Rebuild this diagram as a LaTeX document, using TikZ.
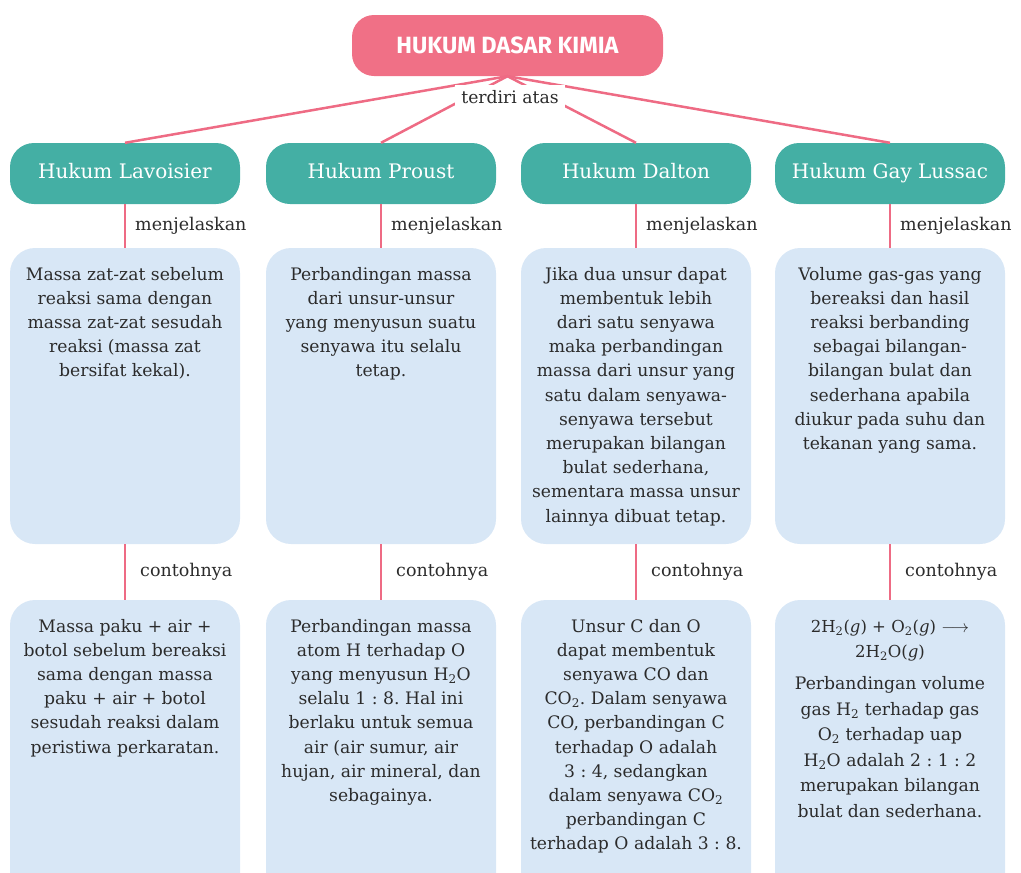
\documentclass[tikz,border=0pt]{standalone}
\usepackage{fontspec}
\usetikzlibrary{calc}
\setmainfont{DejaVu Serif}
\newfontfamily\firasans{Fira Sans}
\definecolor{titlepink}{HTML}{F07086}
\definecolor{linkpink}{HTML}{EE6B84}
\definecolor{lawteal}{HTML}{44AFA4}
\definecolor{boxblue}{HTML}{D8E7F6}
\definecolor{darktext}{HTML}{2B2B2B}
\newcommand\chsub[1]{\textsubscript{#1}}
\frenchspacing
\begin{document}
\begin{tikzpicture}[x=1pt,y=-1pt,
  titlebox/.style={rounded corners=22pt, fill=titlepink, minimum width=311pt, minimum height=61pt, inner sep=0pt, text=white, font=\firasans\bfseries\fontsize{23.5}{28}\selectfont},
  lawbox/.style={rounded corners=24pt, fill=lawteal, minimum width=230pt, minimum height=61pt, inner sep=0pt, text height=15pt, text depth=4.5pt, text=white, font=\fontsize{20}{24}\selectfont},
  descbox/.style={rounded corners=25pt, fill=boxblue, minimum width=230pt, minimum height=296pt, inner sep=0pt},
  exbox/.style={rounded corners=25pt, fill=boxblue, minimum width=230pt, minimum height=300pt, inner sep=0pt},
  bodytext/.style={align=center, text=darktext, font=\fontsize{17.2}{24.2}\selectfont, anchor=north, inner sep=0pt},
  link/.style={draw=linkpink, line width=2.5pt},
  lbl/.style={font=\fontsize{17.5}{21}\selectfont, text=darktext, anchor=west, inner sep=0pt},
  toplbl/.style={font=\fontsize{17.2}{21}\selectfont, text=darktext, fill=white, inner xsep=6pt, inner ysep=5pt}
]
\useasboundingbox (0,0) rectangle (1021,873);
\clip (0,0) rectangle (1021,873);

% title
\node[titlebox] (title) at (507.5,45.5) {HUKUM DASAR KIMIA};

% law boxes
\node[lawbox] (lav) at (125,173.5) {Hukum Lavoisier};
\node[lawbox] (pro) at (381,173.5) {Hukum Proust};
\node[lawbox] (dal) at (636,173.5) {Hukum Dalton};
\node[lawbox] (gay) at (890,173.5) {Hukum Gay Lussac};

% description boxes
\node[descbox] (lavd) at (125,396) {};
\node[descbox] (prod) at (381,396) {};
\node[descbox] (dald) at (636,396) {};
\node[descbox] (gayd) at (890,396) {};

% example boxes
\node[exbox] (lave) at (125,750) {};
\node[exbox] (proe) at (381,750) {};
\node[exbox] (dale) at (636,750) {};
\node[exbox] (gaye) at (890,750) {};

% connectors from title
\foreach \n in {lav,pro,dal,gay}{
  \draw[link] (title.south) -- (\n.north);
}
\node[toplbl] (terdiri) at (510,97) {terdiri atas};

% vertical connectors and labels
\foreach \n in {lav,pro,dal,gay}{
  \draw[link] (\n.south) -- (\n d.north);
  \draw[link] (\n d.south) -- (\n e.north);
  \node[lbl] (\n m) at ([xshift=10pt]$(\n.south)!0.5!(\n d.north)$) {menjelaskan};
  \node[lbl] (\n c) at ([xshift=15pt]$(\n d.south)!0.5!(\n e.north)$) {contohnya};
}

% description texts
\node[bodytext] (lavdt) at ([yshift=-19pt]lavd.north) {Massa zat-zat sebelum\\ reaksi sama dengan\\ massa zat-zat sesudah\\ reaksi (massa zat\\ bersifat kekal).};
\node[bodytext] (prodt) at ([yshift=-19pt]prod.north) {Perbandingan massa\\ dari unsur-unsur\\ yang menyusun suatu\\ senyawa itu selalu\\ tetap.};
\node[bodytext] (daldt) at ([yshift=-19pt]dald.north) {Jika dua unsur dapat\\ membentuk lebih\\ dari satu senyawa\\ maka perbandingan\\ massa dari unsur yang\\ satu dalam senyawa-\\ senyawa tersebut\\ merupakan bilangan\\ bulat sederhana,\\ sementara massa unsur\\ lainnya dibuat tetap.};
\node[bodytext] (gaydt) at ([yshift=-19pt]gayd.north) {Volume gas-gas yang\\ bereaksi dan hasil\\ reaksi berbanding\\ sebagai bilangan-\\ bilangan bulat dan\\ sederhana apabila\\ diukur pada suhu dan\\ tekanan yang sama.};

% example texts
\node[bodytext] (lavet) at ([yshift=-19pt]lave.north) {Massa paku + air +\\ botol sebelum bereaksi\\ sama dengan massa\\ paku + air + botol\\ sesudah reaksi dalam\\ peristiwa perkaratan.};
\node[bodytext] (proet) at ([yshift=-19pt]proe.north) {Perbandingan massa\\ atom H terhadap O\\ yang menyusun H\chsub{2}O\\ selalu 1 : 8. Hal ini\\ berlaku untuk semua\\ air (air sumur, air\\ hujan, air mineral, dan\\ sebagainya.};
\node[bodytext] (dalet) at ([yshift=-19pt]dale.north) {Unsur C dan O\\ dapat membentuk\\ senyawa CO dan\\ CO\chsub{2}. Dalam senyawa\\ CO, perbandingan C\\ terhadap O adalah\\ 3 : 4, sedangkan\\ dalam senyawa CO\chsub{2}\\ perbandingan C\\ terhadap O adalah 3 : 8.};
\node[bodytext, font=\fontsize{16.5}{25}\selectfont] (gayeq) at ([yshift=-20pt]gaye.north) {2H\chsub{2}(\textit{g}) + O\chsub{2}(\textit{g}) $\longrightarrow$\\ 2H\chsub{2}O(\textit{g})};
\node[bodytext, font=\fontsize{17.2}{25.5}\selectfont] (gayet) at ([yshift=-15pt]gayeq.south) {Perbandingan volume\\ gas H\chsub{2} terhadap gas\\ O\chsub{2} terhadap uap\\ H\chsub{2}O adalah 2 : 1 : 2\\ merupakan bilangan\\ bulat dan sederhana.};
\end{tikzpicture}
\end{document}
